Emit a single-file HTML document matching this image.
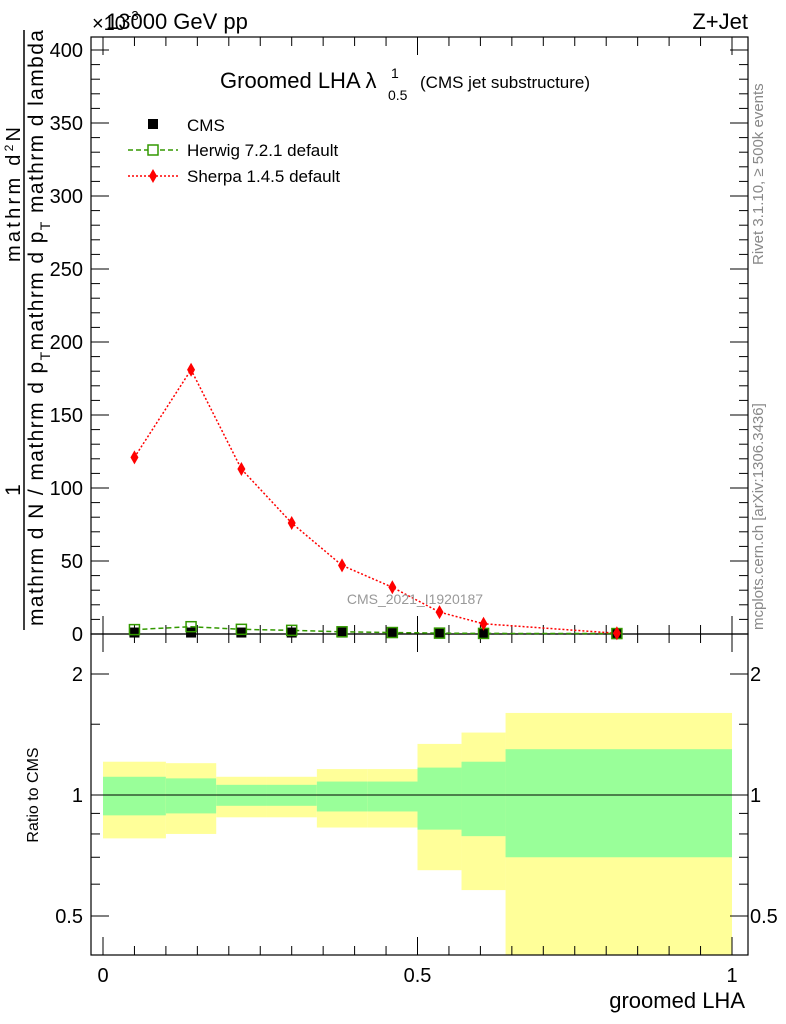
<!DOCTYPE html>
<html><head><meta charset="utf-8"><style>
body{margin:0;background:#fff}
svg{display:block;font-family:"Liberation Sans",sans-serif}
</style></head><body>
<svg id="c" width="786" height="1024" xmlns="http://www.w3.org/2000/svg"></svg>
<script>
const edges=[0,0.1,0.18,0.26,0.34,0.42,0.5,0.57,0.64,1.0];
const centers=[0.05,0.14,0.22,0.30,0.38,0.46,0.535,0.605,0.817];
const sherpa=[121,181,113,76,47,32,15,7,0.5];
const herwig=[3,5,3.2,2.5,1.5,1,0.6,0.4,0.3];
const cms=[1,1,1,1,1,1,1,0.6,0.5];
const yelLo=[0.78,0.80,0.88,0.88,0.83,0.83,0.65,0.58,0.4];
const yelHi=[1.21,1.20,1.11,1.11,1.16,1.16,1.34,1.43,1.6];
const grnLo=[0.89,0.90,0.94,0.94,0.91,0.91,0.82,0.79,0.70];
const grnHi=[1.11,1.10,1.06,1.06,1.08,1.08,1.17,1.21,1.30];
const mainTicks=[0,50,100,150,200,250,300,350,400];
const ratioTicks=[0.5,1,2];
const xTicks=[0,0.5,1];
const xTickLabels=["0","0.5","1"];

const NS="http://www.w3.org/2000/svg";
const svg=document.getElementById('c');
function el(t,a,txt,p){const e=document.createElementNS(NS,t);for(const k in a)e.setAttribute(k,a[k]);if(txt!==undefined)e.textContent=txt;(p||svg).appendChild(e);return e;}
const X=v=>103+v*629;
const Y=v=>634-v*1.46;
const R=v=>795-Math.log2(v)*121;
const L=91,Rr=748;

for(let i=0;i<9;i++){
 let y=el('rect',{x:X(edges[i]),y:R(yelHi[i]),width:X(edges[i+1])-X(edges[i]),height:Math.min(955,R(yelLo[i]))-R(yelHi[i]),fill:'#ffff99'});
 
 
 let g=el('rect',{x:X(edges[i]),y:R(grnHi[i]),width:X(edges[i+1])-X(edges[i]),height:R(grnLo[i])-R(grnHi[i]),fill:'#99ff99'});
 
 
}
el('line',{x1:L,x2:Rr,y1:R(1),y2:R(1),stroke:'#000','stroke-width':1});

el('rect',{x:L,y:37,width:Rr-L,height:597,fill:'none',stroke:'#000','stroke-width':1.2,});
el('rect',{x:L,y:634,width:Rr-L,height:321,fill:'none',stroke:'#000','stroke-width':1.2,});

mainTicks.forEach(t=>{
 el('line',{x1:L,x2:L+18,y1:Y(t),y2:Y(t),stroke:'#000'});
 el('line',{x1:Rr,x2:Rr-18,y1:Y(t),y2:Y(t),stroke:'#000'});
 let tx=el('text',{x:L-8,y:Y(t)+7,'text-anchor':'end','font-size':20},t);
 
 
});
for(let t=10;t<410;t+=10){if(t%50){el('line',{x1:L,x2:L+9,y1:Y(t),y2:Y(t),stroke:'#000'});el('line',{x1:Rr,x2:Rr-9,y1:Y(t),y2:Y(t),stroke:'#000'});}}
for(let t=0;t<=1.0001;t+=0.05){const big=Math.abs(t*10-Math.round(t*10))<1e-6&&Math.round(t*10)%5==0;const s=big?18:9;
 [[634,-1],[37,1],[955,-1],[634,1]].forEach(([b,d])=>el('line',{x1:X(t),x2:X(t),y1:b,y2:b+d*s,stroke:'#000'}));}
xTicks.forEach((t,i)=>{let tx=el('text',{x:X(t),y:982,'text-anchor':'middle','font-size':20},xTickLabels[i]);
 
 });
ratioTicks.forEach(t=>{
 el('line',{x1:L,x2:L+18,y1:R(t),y2:R(t),stroke:'#000'});el('line',{x1:Rr,x2:Rr-18,y1:R(t),y2:R(t),stroke:'#000'});
 el('text',{x:L-8,y:R(t)+7,'text-anchor':'end','font-size':20},String(t));
 el('text',{x:Rr+2,y:R(t)+7,'font-size':20},String(t));
});
[0.6,0.7,0.8,0.9,1.5].forEach(t=>{el('line',{x1:L,x2:L+9,y1:R(t),y2:R(t),stroke:'#000'});el('line',{x1:Rr,x2:Rr-9,y1:R(t),y2:R(t),stroke:'#000'});});

const hp=herwig.map((v,i)=>X(centers[i])+','+Y(v)).join(' ');
el('polyline',{points:hp,fill:'none',stroke:'#339900','stroke-width':1.5,'stroke-dasharray':'5,3',});
const sp=sherpa.map((v,i)=>X(centers[i])+','+Y(v)).join(' ');
el('polyline',{points:sp,fill:'none',stroke:'#ff0000','stroke-width':1.5,'stroke-dasharray':'2,2',});
cms.forEach((v,i)=>{let r=el('rect',{x:X(centers[i])-5,y:Y(v)-5,width:10,height:10,fill:'#000'});
 
 });
herwig.forEach((v,i)=>{let r=el('rect',{x:X(centers[i])-5,y:Y(v)-5,width:10,height:10,fill:'none',stroke:'#339900','stroke-width':1.5});
 
 });
sherpa.forEach((v,i)=>{const x=X(centers[i]),y=Y(v);let p=el('polygon',{points:`${x},${y-7} ${x+4},${y} ${x},${y+7} ${x-4},${y}`,fill:'#ff0000'});
 
 });
</script>
<svg width="786" height="1024" style="position:absolute;left:0;top:0" xmlns="http://www.w3.org/2000/svg">
<g font-family="Liberation Sans, sans-serif">
<text x="92" y="30" font-size="20">×10</text>
<text x="127" y="20" font-size="13">-3</text>
<text x="106" y="29" font-size="22">13000 GeV pp</text>
<text x="748" y="29" font-size="22" text-anchor="end">Z+Jet</text>
<text x="220" y="88" font-size="22">Groomed LHA λ</text>
<text x="391" y="78" font-size="14">1</text>
<text x="388" y="100" font-size="14">0.5</text>
<text x="420" y="88" font-size="17">(CMS jet substructure)</text>
<rect x="148" y="119" width="10" height="10" fill="#000"/>
<text x="187" y="131" font-size="17">CMS</text>
<line x1="128" x2="178" y1="150" y2="150" stroke="#339900" stroke-dasharray="5,3" stroke-width="1.5"/>
<rect x="148" y="145" width="10" height="10" fill="#fff" stroke="#339900" stroke-width="1.5"/>
<text x="187" y="156" font-size="17">Herwig 7.2.1 default</text>
<line x1="128" x2="178" y1="176" y2="176" stroke="#ff0000" stroke-dasharray="2,2" stroke-width="1.5"/>
<polygon points="153,169 157,176 153,183 149,176" fill="#ff0000"/>
<text x="187" y="182" font-size="17">Sherpa 1.4.5 default</text>
<text x="415" y="604" font-size="14" fill="#999" text-anchor="middle">CMS_2021_I1920187</text>
<text x="745" y="1008" font-size="22" text-anchor="end">groomed LHA</text>
<text transform="translate(38,795) rotate(-90)" font-size="16" text-anchor="middle">Ratio to CMS</text>
<line x1="24" x2="24" y1="30" y2="630" stroke="#000" stroke-width="1.5"/>
<text transform="translate(20,490) rotate(-90)" font-size="21" text-anchor="middle">1</text>
<text transform="translate(20,262) rotate(-90)" font-size="20" textLength="135">mathrm d<tspan dy="-7" font-size="12">2</tspan><tspan dy="7">N</tspan></text>
<text transform="translate(43,626) rotate(-90)" font-size="21" textLength="596">mathrm d N / mathrm d p<tspan font-size="14" dy="7">T</tspan><tspan dy="-7">mathrm d p</tspan><tspan font-size="14" dy="7">T</tspan><tspan dy="-7"> mathrm d lambda</tspan></text>
<text transform="translate(763,265) rotate(-90)" font-size="15" fill="#888">Rivet 3.1.10, ≥ 500k events</text>
<text transform="translate(763,630) rotate(-90)" font-size="15" fill="#888">mcplots.cern.ch [arXiv:1306.3436]</text>
</g>
</svg>
</body></html>
